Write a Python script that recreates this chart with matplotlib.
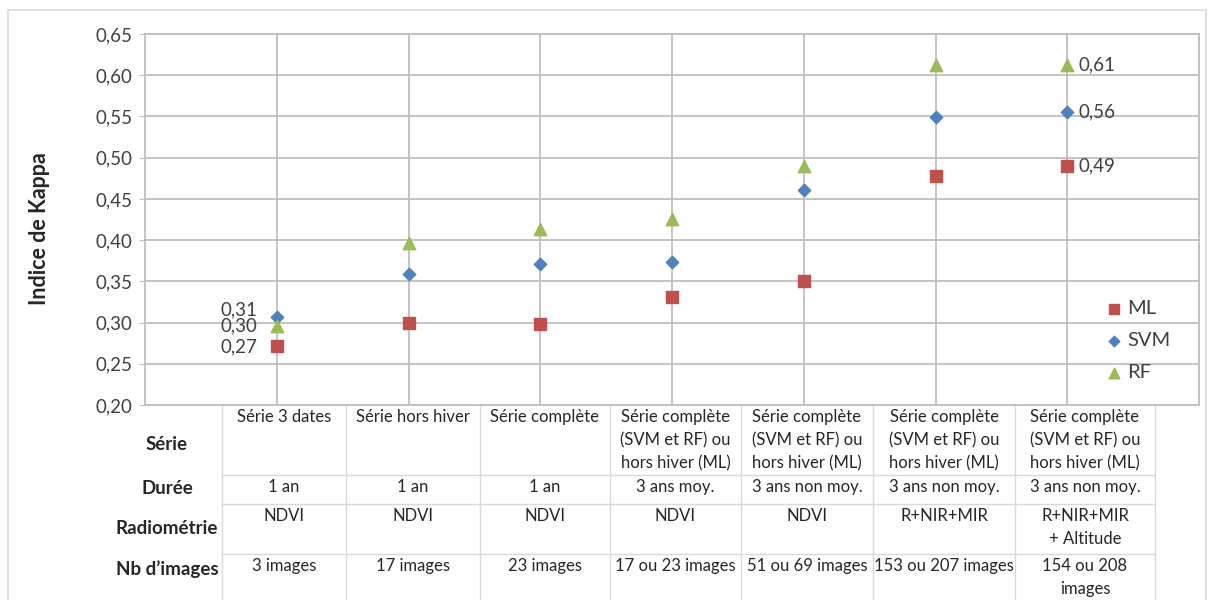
"""Indice de Kappa par série d'images et classifieur (ML, SVM, RF) + tableau descriptif."""

import numpy as np
import matplotlib
matplotlib.use("Agg")
import matplotlib.pyplot as plt
from matplotlib.ticker import FuncFormatter, MultipleLocator

plt.rcParams["font.family"] = ["Lato", "DejaVu Sans"]

# valeurs
positions = [1, 2, 3, 4, 5, 6, 7]
kappa_ml = [0.271, 0.300, 0.298, 0.331, 0.350, 0.478, 0.490]
kappa_svm = [0.307, 0.359, 0.371, 0.374, 0.461, 0.549, 0.555]
kappa_rf = [0.296, 0.396, 0.413, 0.426, 0.490, 0.613, 0.613]
series_names = ["ML", "SVM", "RF"]

# tableau sous le graphique
row_headers = ["Série", "Durée", "Radiométrie", "Nb d’images"]
col_serie = ["Série 3 dates", "Série hors hiver", "Série complète",
             "Série complète\n(SVM et RF) ou\nhors hiver (ML)",
             "Série complète\n(SVM et RF) ou\nhors hiver (ML)",
             "Série complète\n(SVM et RF) ou\nhors hiver (ML)",
             "Série complète\n(SVM et RF) ou\nhors hiver (ML)"]
col_duree = ["1 an", "1 an", "1 an", "3 ans moy.", "3 ans non moy.",
             "3 ans non moy.", "3 ans non moy."]
col_radio = ["NDVI", "NDVI", "NDVI", "NDVI", "NDVI", "R+NIR+MIR",
             "R+NIR+MIR\n+ Altitude"]
col_nb = ["3 images", "17 images", "23 images", "17 ou 23 images",
          "51 ou 69 images", "153 ou 207 images", "154 ou 208\nimages"]

C_ML = "#C0504D"
C_SVM = "#4F81BD"
C_RF = "#9BBB59"
GRID = "#BFBFBF"
TXT = "#262626"

W, H = 1214, 600
fig = plt.figure(figsize=(W / 100, H / 100), dpi=100)

# calque en pixels pour le cadre et le tableau
lay = fig.add_axes([0, 0, 1, 1], zorder=0)
lay.set_xlim(0, W)
lay.set_ylim(H, 0)
lay.axis("off")
lay.plot([8, 8, 1206, 1206], [600, 10, 10, 600], color="#D9D9D9", lw=1.2)

ax = fig.add_axes([145 / W, 1 - 405 / H, (1199 - 145) / W, (405 - 34) / H], zorder=1)
ax.patch.set_alpha(0)
ax.set_xlim(0, 8)
ax.set_ylim(0.20, 0.65)
ax.yaxis.set_major_locator(MultipleLocator(0.05))
ax.yaxis.set_major_formatter(FuncFormatter(lambda v, p: f"{v:.2f}".replace(".", ",")))
ax.set_xticks([1, 2, 3, 4, 5, 6, 7, 8])
ax.tick_params(axis="x", length=0, labelbottom=False)
ax.tick_params(axis="y", length=4, color=GRID, labelsize=13.5, labelcolor="#404040", pad=5)
ax.grid(True, color=GRID, lw=1.3)
ax.set_axisbelow(True)
for s in ax.spines.values():
    s.set_color(GRID)
    s.set_linewidth(1.3)

ax.scatter(positions, kappa_ml, marker="s", s=80, color=C_ML, zorder=3, label="ML")
ax.scatter(positions, kappa_svm, marker="D", s=40, color=C_SVM, zorder=3, label="SVM")
ax.scatter(positions, kappa_rf, marker="^", s=80, color=C_RF, zorder=3, label="RF")

fmt = lambda v: f"{v:.2f}".replace(".", ",")
# étiquettes à gauche de la 1re colonne (décalées pour ne pas se chevaucher)
for vals, dy in [(kappa_svm, 5), (kappa_rf, 0), (kappa_ml, 0)]:
    ax.annotate(fmt(vals[0]), (positions[0], vals[0]), xytext=(-14, dy),
                textcoords="offset points", ha="right", va="center",
                fontsize=13.5, color="#404040")
# étiquettes à droite de la dernière colonne
for vals in [kappa_rf, kappa_svm, kappa_ml]:
    ax.annotate(fmt(vals[-1]), (positions[-1], vals[-1]), xytext=(8, 0),
                textcoords="offset points", ha="left", va="center",
                fontsize=13.5, color="#404040")

leg = ax.legend(loc="lower right", bbox_to_anchor=(0.99, 0.015), frameon=False,
                fontsize=14.5, handletextpad=0.05, labelspacing=0.75,
                handlelength=1.2, markerscale=0.85, labelcolor="#404040")

fig.text(40 / W, 1 - 229 / H, "Indice de Kappa", rotation=90, ha="center",
         va="center", fontsize=15.5, fontweight="bold", color=TXT)

# tableau
col_x = [222, 346, 480, 610, 741, 873, 1015, 1155]
row_y = [405, 475, 504, 554, 600]
for x in col_x:
    lay.plot([x, x], [row_y[0], row_y[-1]], color="#D9D9D9", lw=1.0)
for y in row_y[1:-1]:
    lay.plot([col_x[0], col_x[-1]], [y, y], color="#D9D9D9", lw=1.0)

header_y = [444, 489, 529, 569]
for lab, y in zip(row_headers, header_y):
    lay.text(167, y, lab, ha="center", va="center", fontsize=13.5,
             fontweight="bold", color=TXT)

rows = [col_serie, col_duree, col_radio, col_nb]
for r, vals in enumerate(rows):
    for c, txt in enumerate(vals):
        cx = (col_x[c] + col_x[c + 1]) / 2
        lay.text(cx, row_y[r] + 4, txt, ha="center", va="top", fontsize=12,
                 color=TXT, linespacing=1.55)

fig.savefig("out.png", dpi=100)
